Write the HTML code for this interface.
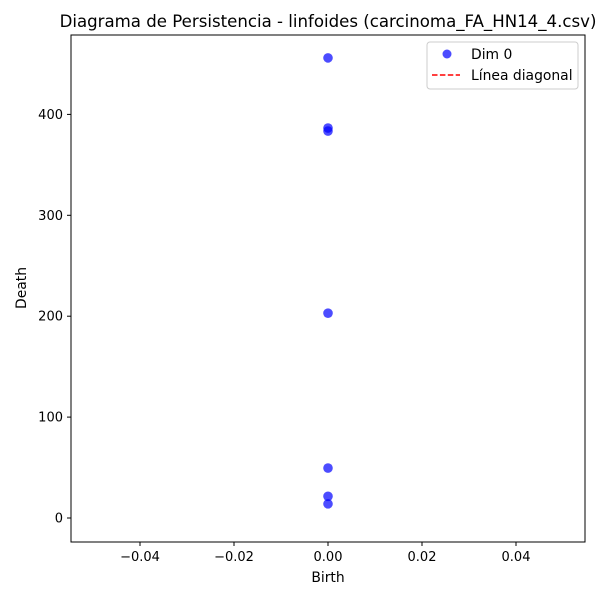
<!DOCTYPE html>
<html><head><meta charset="utf-8"><style>
body{margin:0;background:#fff;}
svg{font-family:"DejaVu Sans","Liberation Sans",sans-serif;}
</style></head><body>
<svg id="chart" width="600" height="600" viewBox="0 0 600 600">
<rect width="600" height="600" fill="#fff"/>
<text x="328" y="27" font-size="16.6" text-anchor="middle">Diagrama de Persistencia - linfoides (carcinoma_FA_HN14_4.csv)</text>
<g id="xticks"></g><g id="yticks"></g><g id="points"></g>
<rect x="71" y="35" width="514" height="507" fill="none" stroke="#000" stroke-width="1"/>
<text x="328" y="582" font-size="13.9" text-anchor="middle">Birth</text>
<text transform="translate(26,288) rotate(-90)" font-size="13.9" text-anchor="middle">Death</text>
<g>
<rect x="427" y="42" width="151" height="47" rx="3" fill="#fff" stroke="#ccc"/>
<circle cx="447" cy="54" r="4.5" fill="#0000ff" fill-opacity="0.7"/>
<text x="471" y="59" font-size="13.9">Dim 0</text>
<line x1="432" y1="75" x2="460" y2="75" stroke="#ff0000" stroke-width="1.5" stroke-dasharray="5.5,2.4"/>
<text x="471" y="80" font-size="13.9">Línea diagonal</text>
</g>
</svg>
<script>
const births = [0, 0, 0, 0, 0, 0, 0];
const deaths = [456, 386.5, 383.5, 203, 49.5, 21.5, 14];
const xTickValues = [-0.04, -0.02, 0, 0.02, 0.04];
const xTickLabels = ["\u22120.04", "\u22120.02", "0.00", "0.02", "0.04"];
const yTickValues = [0, 100, 200, 300, 400];
const yTickLabels = ["0", "100", "200", "300", "400"];

const NS = "http://www.w3.org/2000/svg";
const xScale = v => 328 + v * 4700;
const yScale = v => 518 - v * 1.009;
function mk(tag, attrs, parent){const e=document.createElementNS(NS,tag);for(const k in attrs)e.setAttribute(k,attrs[k]);parent.appendChild(e);return e;}
const xg=document.getElementById('xticks'), yg=document.getElementById('yticks'), pg=document.getElementById('points');
xTickValues.forEach((v,i)=>{
  const x=xScale(v);
  const l=mk('line',{x1:x,x2:x,y1:542,y2:546,stroke:'#000'},xg);
  
  
  const t=mk('text',{x:x,y:561,'font-size':13,'text-anchor':'middle'},xg);
  t.textContent=xTickLabels[i];
  
  
});
yTickValues.forEach((v,i)=>{
  const y=yScale(v);
  const l=mk('line',{x1:67,x2:71,y1:y,y2:y,stroke:'#000'},yg);
  
  
  const t=mk('text',{x:63,y:y+4.5,'font-size':13,'text-anchor':'end'},yg);
  t.textContent=yTickLabels[i];
  
  
});
births.forEach((b,i)=>{
  const c=mk('circle',{cx:xScale(b),cy:yScale(deaths[i]),r:4.8,fill:'#0000ff','fill-opacity':0.7},pg);
  
  
});
</script>
</body></html>
